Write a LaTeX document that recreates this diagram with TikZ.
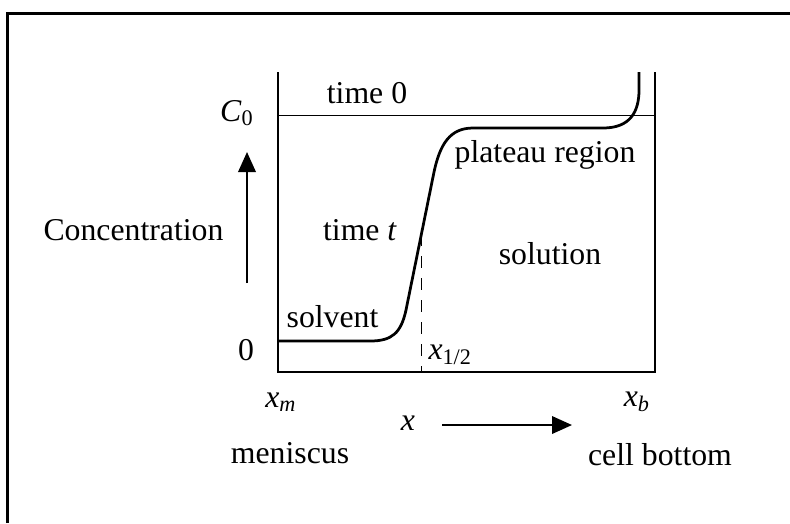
\documentclass[tikz,border=0pt]{standalone}
\usepackage{fontspec}
\setmainfont{Liberation Serif}
\usetikzlibrary{arrows.meta}

\begin{document}
\begin{tikzpicture}[x=0.4pt, y=-0.4pt, >={Triangle[length=8pt,width=7pt]},
                    every node/.style={font=\fontsize{12.7}{15}\selectfont, inner sep=0pt},
                    wall/.style={line width=1.1pt},
                    profile/.style={line width=1.1pt, line join=round},
                    axisarrow/.style={line width=0.8pt, ->}]

  \useasboundingbox (0,0) rectangle (790,523);

  %% outer frame
  \draw[line width=1.2pt] (7.5,523) -- (7.5,13) -- (790,13);

  %% cell walls
  \draw[wall] (278,72) -- (278,372) -- (655,372) -- (655,72);

  %% time 0: C_0 everywhere
  \draw[line width=0.6pt] (278,115.5) -- (655,115.5);

  %% boundary at time t
  \draw[profile] (278,341) -- (370,341)
    .. controls (392,341) and (401,333) .. (406,310) -- (434,172)
    .. controls (440,144) and (450,128) .. (473,128) -- (603,128)
    .. controls (630,128) and (639,112) .. (639,90) -- (639,72);

  %% midpoint x_{1/2}
  \coordinate (xtop) at (421.7,234);
  \coordinate (xbot) at (421.7,372);
  \draw[line width=0.6pt, dash pattern=on 4.8pt off 4pt] (xtop) -- (xbot);

  %% labels inside the cell
  \node (time0)   at (367,93)  {time 0};
  \node (plateau) at (545,155) {plateau region};
  \node (timet)   at (360,230) {time \textit{t}};
  \node (soln)    at (550,254) {solution};
  \node (solv)    at (332.5,317) {solvent};
  \node[anchor=west] (xhalf) at (428,355) {\textit{x}\textsubscript{1/2}};

  %% concentration axis
  \node (c0)   at (237,113) {\textit{C}\textsubscript{0}};
  \node (zero) at (246,350) {0};
  \node (conc) at (133.5,230) {Concentration};
  \coordinate (cbot) at (247,283);
  \coordinate (ctop) at (247,152);
  \draw[axisarrow] (cbot) -- (ctop);

  %% radial axis
  \node (xm)   at (281,402) {\textit{x}\textsubscript{\textit{m}}};
  \node (xb)   at (637,402) {\textit{x}\textsubscript{\textit{b}}};
  \node (xlab) at (408,423) {\textit{x}};
  \coordinate (xfrom) at (442,425);
  \coordinate (xto)   at (572,425);
  \draw[axisarrow] (xfrom) -- (xto);
  \node (menisc) at (290,453) {meniscus};
  \node (bottom) at (660,455) {cell bottom};

\end{tikzpicture}
\end{document}
